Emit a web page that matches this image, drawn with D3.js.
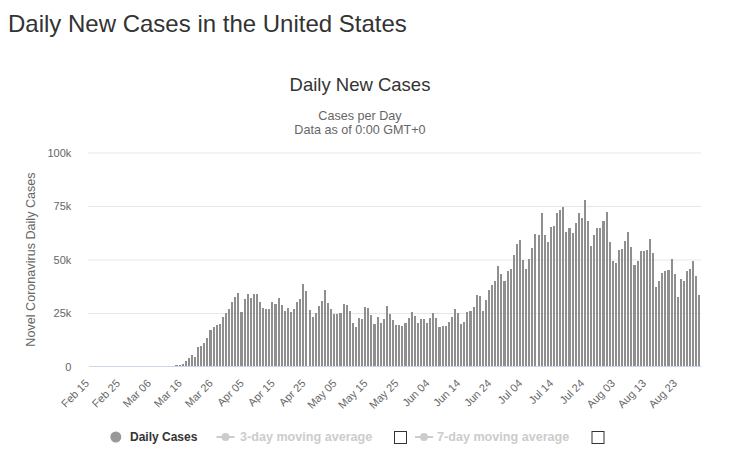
<!DOCTYPE html>
<html>
<head>
<meta charset="utf-8">
<script src="https://cdn.jsdelivr.net/npm/d3@7"></script>
<style>
  body { margin: 0; background: #fff; }
  svg text { font-family: "Liberation Sans", Arial, Helvetica, sans-serif; }
</style>
</head>
<body>
<svg id="chart" width="737" height="463"></svg>
<script>
// ---------------- data ----------------
const pageTitle = "Daily New Cases in the United States";
const chartTitle = "Daily New Cases";
const subtitleLines = ["Cases per Day", "Data as of 0:00 GMT+0"];
const yAxisTitle = "Novel Coronavirus Daily Cases";

const firstDay = "2020-02-15";
const dailyCases = [
  0, 0, 0, 0, 0, 0, 0, 0, 0, 0, 1, 0, 0, 0, 8,
  10, 20, 25, 35, 70, 60, 110, 120, 160, 250, 280, 300, 350,
  500, 700, 1400, 2500, 4200, 5300, 4400, 8900, 9800, 10900, 13300, 16900,
  18300, 19400, 19800, 23000, 25100, 26900, 30000, 32300, 34200, 25500,
  31400, 33800, 31900, 33800, 33800, 30300, 27300, 26900, 26900, 30000,
  29000, 31900, 28600, 25900, 27500, 25500, 26700, 30100, 31400, 38600,
  35300, 26400, 23100, 25000, 28300, 30600, 35800, 29700, 26900, 24500,
  24500, 25000, 29200, 28700, 25900, 20400, 18400, 22600, 22200, 27800,
  27300, 24000, 19800, 23100, 20400, 22200, 28300, 24500, 21700, 19400,
  19400, 18900, 20300, 22600, 25400, 23700, 20300, 22200, 22200, 20300,
  22600, 25000, 22600, 18400, 18900, 18900, 20800, 23100, 26900, 25000,
  19800, 20800, 25500, 25900, 27800, 33400, 33000, 25900, 31100, 35800,
  38100, 40000, 47000, 43300, 40000, 44700, 45600, 52200, 57300, 59200,
  49800, 45600, 50300, 55500, 62000, 61600, 71900, 61600, 58300, 65300,
  65800, 71900, 73300, 74700, 63000, 64800, 62500, 67200, 71900, 69500,
  78000, 68100, 56400, 61600, 64800, 64800, 68100, 72300, 58300, 49400,
  48400, 54500, 55000, 58700, 63000, 55900, 47500, 49400, 54100, 54100,
  54500, 59700, 53100, 37200, 40000, 43700, 44700, 45100, 50300, 43300,
  32500, 40900, 40000, 44700, 45600, 49400, 42300, 33400
];

const yTickValues = [0, 25000, 50000, 75000, 100000];
const yTickLabels = ["0", "25k", "50k", "75k", "100k"];
const xTickLabels = ["Feb 15", "Feb 25", "Mar 06", "Mar 16", "Mar 26", "Apr 05",
  "Apr 15", "Apr 25", "May 05", "May 15", "May 25", "Jun 04", "Jun 14", "Jun 24",
  "Jul 04", "Jul 14", "Jul 24", "Aug 03", "Aug 13", "Aug 23"];
const legendLabels = ["Daily Cases", "3-day moving average", "7-day moving average"];

// ---------------- drawing ----------------
const svg = d3.select("#chart");
const plot = { left: 88.3, right: 701, top: 152.5, bottom: 366.5 };
const fmt = d3.timeFormat("%b %d");
const start = d3.timeParse("%Y-%m-%d")(firstDay);
const days = dailyCases.map((v, i) => ({ date: d3.timeDay.offset(start, i), value: v }));

const x = d3.scaleBand()
  .domain(days.map(d => d.date))
  .range([plot.left, plot.right])
  .paddingInner(0.33)
  .paddingOuter(0.165);
const y = d3.scaleLinear().domain([0, 100000]).range([plot.bottom, plot.top]);

svg.append("rect").attr("width", 737).attr("height", 463).attr("fill", "#fff");

// page title
svg.append("text").attr("x", 8).attr("y", 32)
  .attr("font-size", 24).attr("fill", "#333").text(pageTitle);

// chart title + subtitle
svg.append("text").attr("x", 360).attr("y", 91).attr("text-anchor", "middle")
  .attr("font-size", 18.5).attr("fill", "#333").text(chartTitle);
svg.selectAll(".sub").data(subtitleLines).join("text")
  .attr("class", "sub")
  .attr("x", 360).attr("y", (d, i) => 119.5 + i * 14.5)
  .attr("text-anchor", "middle").attr("font-size", 12.6).attr("fill", "#666")
  .text(d => d);

// gridlines
const grid = svg.append("g").attr("transform", `translate(${plot.left},0)`)
  .call(d3.axisLeft(y).tickValues(yTickValues.slice(1))
    .tickSize(-(plot.right - plot.left)).tickFormat(""));
grid.select(".domain").remove();
grid.selectAll("line").attr("stroke", "#e6e6e6");

// y axis labels
const yAxis = svg.append("g").attr("transform", `translate(${plot.left},0)`)
  .call(d3.axisLeft(y).tickValues(yTickValues).tickSize(0).tickPadding(17)
    .tickFormat((d, i) => yTickLabels[i]));
yAxis.select(".domain").remove();
yAxis.selectAll("text").attr("font-size", 11).attr("fill", "#666")
  .attr("font-family", "Liberation Sans, Arial, sans-serif");

// y axis title
svg.append("text").attr("transform", `translate(34.5,${(plot.top + plot.bottom) / 2}) rotate(-90)`)
  .attr("text-anchor", "middle").attr("font-size", 12.6).attr("fill", "#666")
  .text(yAxisTitle);

// bars
svg.append("g").attr("shape-rendering", "crispEdges")
  .selectAll("rect").data(days).join("rect")
  .attr("x", d => x(d.date))
  .attr("width", x.bandwidth())
  .attr("y", d => y(d.value))
  .attr("height", d => plot.bottom - y(d.value))
  .attr("fill", "#8f8f8f");

// x axis
const tickDates = days.map(d => d.date).filter(d => xTickLabels.includes(fmt(d)));
const xAxis = svg.append("g").attr("transform", `translate(0,${plot.bottom - 0.5})`)
  .call(d3.axisBottom(x).tickValues(tickDates).tickSize(0).tickSizeOuter(0)
    .tickFormat(d => xTickLabels[xTickLabels.indexOf(fmt(d))]));
xAxis.select(".domain").attr("stroke", "#ccd6eb");
xAxis.selectAll("text")
  .attr("y", null).attr("dy", null)
  .attr("text-anchor", "end")
  .attr("transform", "translate(0,18) rotate(-45)")
  .attr("font-size", 11).attr("fill", "#666")
  .attr("font-family", "Liberation Sans, Arial, sans-serif");

// legend
const lg = svg.append("g");
const ly = 437;
lg.append("circle").attr("cx", 115.8).attr("cy", ly).attr("r", 5.5).attr("fill", "#999");
lg.append("text").attr("x", 130).attr("y", ly + 4).attr("font-size", 12)
  .attr("font-weight", "bold").attr("fill", "#333").text(legendLabels[0]);

const maItems = [
  { x0: 216.5, tx: 240, box: 394.5, label: legendLabels[1] },
  { x0: 415, tx: 437, box: 592, label: legendLabels[2] }
];
maItems.forEach(m => {
  lg.append("line").attr("x1", m.x0).attr("x2", m.x0 + 18).attr("y1", ly).attr("y2", ly)
    .attr("stroke", "#ccc").attr("stroke-width", 2);
  lg.append("circle").attr("cx", m.x0 + 9).attr("cy", ly).attr("r", 4).attr("fill", "#ccc");
  lg.append("text").attr("x", m.tx).attr("y", ly + 4).attr("font-size", 12.6)
    .attr("font-weight", "bold").attr("fill", "#ccc").text(m.label);
  lg.append("rect").attr("x", m.box).attr("y", ly - 5.5).attr("width", 12).attr("height", 12)
    .attr("fill", "#fff").attr("stroke", "#333").attr("stroke-width", 1);
});
</script>
</body>
</html>
